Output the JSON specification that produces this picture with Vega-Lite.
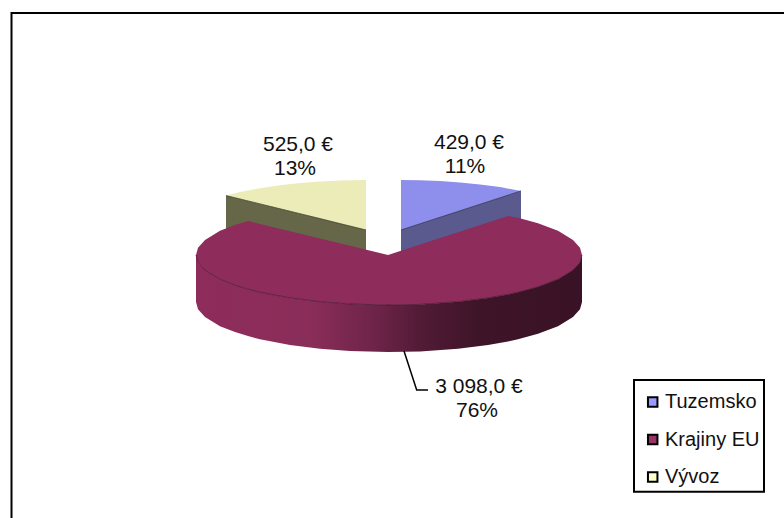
{"$schema":"https://vega.github.io/schema/vega-lite/v6.json","width":784,"height":518,"padding":0,"autosize":{"type":"none"},"background":"#ffffff","config":{"view":{"stroke":null},"font":"Liberation Sans"},
"datasets":{
"vyvoz":[{"x":226,"y":195.6,"y2":195.6,"w":242.6},{"x":240,"y":192.1,"y2":199.0,"w":246},{"x":260,"y":188.2,"y2":203.9,"w":250.9},{"x":280,"y":185.3,"y2":208.8,"w":255.8},{"x":300,"y":183.0,"y2":213.7,"w":260.7},{"x":320,"y":181.4,"y2":218.6,"w":265.6},{"x":340,"y":180.5,"y2":223.6,"w":270.6},{"x":366,"y":180,"y2":230,"w":277}],
"tuzemsko":[{"x":401,"y":180,"y2":230,"w":277},{"x":420,"y":180.2,"y2":223.8,"w":270.8},{"x":440,"y":181.0,"y2":217.3,"w":264.3},{"x":460,"y":182.4,"y2":210.8,"w":257.8},{"x":480,"y":184.4,"y2":204.3,"w":251.3},{"x":500,"y":187.1,"y2":197.8,"w":244.8},{"x":521,"y":190.9,"y2":190.9,"w":237.9}],
"krajiny":[{"x":196,"y":255,"y2":255,"w":302},{"x":198,"y":247.8,"y2":262.2,"w":309.2},{"x":205,"y":239.9,"y2":270.1,"w":317.1},{"x":220,"y":230.8,"y2":279.2,"w":326.2},{"x":235,"y":224.9,"y2":285.1,"w":332.1},{"x":248,"y":221,"y2":289.1,"w":336.1},{"x":260,"y":223.9,"y2":292.2,"w":339.2},{"x":290,"y":231.2,"y2":297.9,"w":344.9},{"x":320,"y":238.5,"y2":301.7,"w":348.7},{"x":350,"y":245.8,"y2":304,"w":351},{"x":388,"y":255,"y2":305,"w":352},{"x":420,"y":244.6,"y2":304.4,"w":351.4},{"x":458,"y":232.3,"y2":301.7,"w":348.7},{"x":488,"y":222.5,"y2":297.9,"w":344.9},{"x":508,"y":216,"y2":294.4,"w":341.4},{"x":518,"y":217.8,"y2":292.2,"w":339.2},{"x":538,"y":223.2,"y2":286.8,"w":333.8},{"x":558,"y":230.8,"y2":279.2,"w":326.2},{"x":573,"y":239.9,"y2":270.1,"w":317.1},{"x":580,"y":247.8,"y2":262.2,"w":309.2},{"x":582,"y":255,"y2":255,"w":302}],
"summary":[{"slice":"Tuzemsko","value":429,"share":11,"x":465,"y":230},{"slice":"Krajiny EU","value":3098,"share":76,"x":388,"y":280},{"slice":"Vývoz","value":525,"share":13,"x":295,"y":230}],
"labels":[{"t":"525,0 €","x":298,"y":151},{"t":"13%","x":295,"y":175},{"t":"429,0 €","x":469,"y":149},{"t":"11%","x":465,"y":172.7},{"t":"3 098,0 €","x":479,"y":393},{"t":"76%","x":477,"y":416.7}],
"leader":[{"o":1,"x":404,"y":351},{"o":2,"x":416.7,"y":390},{"o":3,"x":428,"y":390}],
"frame":[{"o":1,"x":11.5,"y":518},{"o":2,"x":11.5,"y":13},{"o":3,"x":784,"y":13}],
"legendbox":[{"x":634,"x2":764,"y":380,"y2":491.7}]
},
"encoding":{"x":{"field":"x","type":"quantitative","scale":{"domain":[0,784],"nice":false,"zero":false},"axis":null},"y":{"field":"y","type":"quantitative","scale":{"domain":[518,0],"nice":false,"zero":false},"axis":null}},
"layer":[
{"data":{"name":"frame"},"mark":{"type":"line","color":"#000000","strokeWidth":2,"clip":false},"encoding":{"order":{"field":"o"}}},
{"data":{"name":"vyvoz"},"mark":{"type":"area","color":"#666648"},"encoding":{"y":{"field":"y2","type":"quantitative"},"y2":{"field":"w"}}},
{"data":{"name":"tuzemsko"},"mark":{"type":"area","color":"#5A5A8E"},"encoding":{"y":{"field":"y2","type":"quantitative"},"y2":{"field":"w"}}},
{"data":{"name":"vyvoz"},"mark":{"type":"area","color":"#ECECB8"},"encoding":{"y2":{"field":"y2"}}},
{"data":{"name":"tuzemsko"},"mark":{"type":"area","color":"#8E8EEC"},"encoding":{"y2":{"field":"y2"}}},
{"data":{"name":"vyvoz"},"mark":{"type":"line","color":"#3a3a28","strokeWidth":0.8},"encoding":{"y":{"field":"y2","type":"quantitative"}}},
{"data":{"name":"tuzemsko"},"mark":{"type":"line","color":"#2e2e50","strokeWidth":0.8},"encoding":{"y":{"field":"y2","type":"quantitative"}}},
{"data":{"name":"krajiny"},"mark":{"type":"area","fill":{"gradient":"linear","x1":0,"y1":0,"x2":1,"y2":0,"stops":[{"offset":0,"color":"#8E2C5B"},{"offset":0.3,"color":"#8A2D59"},{"offset":0.477,"color":"#6B2347"},{"offset":0.58,"color":"#521B36"},{"offset":0.736,"color":"#3D1428"},{"offset":1,"color":"#3A1226"}]}},"encoding":{"y":{"field":"y2","type":"quantitative"},"y2":{"field":"w"}}},
{"data":{"name":"krajiny"},"mark":{"type":"area","color":"#8E2C5B"},"encoding":{"y2":{"field":"y2"}}},
{"data":{"name":"krajiny"},"mark":{"type":"line","color":"#4a1530","strokeWidth":0.8},"encoding":{"y":{"field":"y2","type":"quantitative"}}},
{"data":{"name":"leader"},"mark":{"type":"line","color":"#000000","strokeWidth":1.5},"encoding":{"order":{"field":"o"}}},
{"data":{"name":"labels"},"mark":{"type":"text","font":"Liberation Sans","fontSize":21,"color":"#111111","align":"center","baseline":"alphabetic"},"encoding":{"text":{"field":"t"}}},
{"data":{"name":"legendbox"},"mark":{"type":"rect","fill":"#ffffff","stroke":"#000000","strokeWidth":2},"encoding":{"x2":{"field":"x2"},"y2":{"field":"y2"}}},
{"data":{"name":"summary"},"mark":{"type":"point","filled":true,"size":0,"shape":"square"},"encoding":{"color":{"field":"slice","type":"nominal","sort":["Tuzemsko","Krajiny EU","Vývoz"],"scale":{"domain":["Tuzemsko","Krajiny EU","Vývoz"],"range":["#9999FF","#993366","#FFFFCC"]},"legend":{"title":null,"orient":"none","legendX":642.7,"legendY":392,"padding":0,"labelFont":"Liberation Sans","labelFontSize":20,"labelColor":"#111111","symbolType":"square","symbolSize":90,"symbolOpacity":1,"symbolStrokeColor":"#000000","symbolStrokeWidth":2,"rowPadding":17.5,"labelOffset":2.3,"labelLimit":200}}}}
]}
